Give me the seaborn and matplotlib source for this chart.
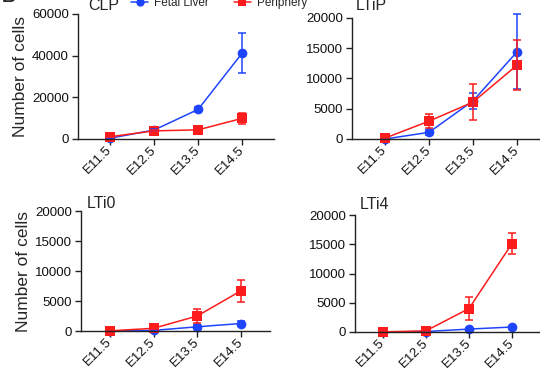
import matplotlib
matplotlib.use('Agg')
import matplotlib.pyplot as plt
import matplotlib.transforms as mtransforms
import seaborn as sns
import pandas as pd

sns.set_style('ticks')
plt.rcParams['font.family'] = ['Liberation Sans', 'DejaVu Sans']

# stages and values (mean and error)
stages = ['E11.5', 'E12.5', 'E13.5', 'E14.5']
panels = ['CLP', 'LTiP', 'LTi0', 'LTi4']

clp_fl = [400, 4300, 14200, 41200]
clp_fl_err = [200, 600, 1300, 9700]
clp_per = [1100, 3900, 4400, 9900]
clp_per_err = [300, 500, 1800, 2800]

ltip_fl = [0, 1100, 6300, 14400]
ltip_fl_err = [50, 400, 1300, 6200]
ltip_per = [150, 2950, 6100, 12200]
ltip_per_err = [100, 1150, 2950, 4100]

lti0_fl = [0, 100, 700, 1250]
lti0_fl_err = [20, 50, 250, 350]
lti0_per = [30, 450, 2500, 6700]
lti0_per_err = [20, 150, 1150, 1850]

lti4_fl = [0, 80, 500, 850]
lti4_fl_err = [10, 30, 150, 200]
lti4_per = [20, 200, 4000, 15100]
lti4_per_err = [10, 100, 1950, 1750]

values = {
    'CLP': (clp_fl, clp_fl_err, clp_per, clp_per_err),
    'LTiP': (ltip_fl, ltip_fl_err, ltip_per, ltip_per_err),
    'LTi0': (lti0_fl, lti0_fl_err, lti0_per, lti0_per_err),
    'LTi4': (lti4_fl, lti4_fl_err, lti4_per, lti4_per_err),
}
yticks = {
    'CLP': [0, 20000, 40000, 60000],
    'LTiP': [0, 5000, 10000, 15000, 20000],
    'LTi0': [0, 5000, 10000, 15000, 20000],
    'LTi4': [0, 5000, 10000, 15000, 20000],
}

rows = []
for p in panels:
    fl, fle, per, pere = values[p]
    for i, s in enumerate(stages):
        rows.append({'panel': p, 'stage': s, 'x': i, 'source': 'Fetal Liver', 'cells': fl[i], 'err': fle[i]})
        rows.append({'panel': p, 'stage': s, 'x': i, 'source': 'Periphery', 'cells': per[i], 'err': pere[i]})
df = pd.DataFrame(rows)

colors = {'Fetal Liver': '#1f45fc', 'Periphery': '#fc1c1c'}
markers = {'Fetal Liver': 'o', 'Periphery': 's'}

fig = plt.figure(figsize=(5.4, 3.69), dpi=100)
W, H = 540.0, 369.0
# left px, top px, bottom px, xlim pad, tick spacing px
layout = {
    'CLP': (78, 14, 139, 0.73, 44.0),
    'LTiP': (352, 18, 139, 0.75, 44.0),
    'LTi0': (81, 211, 331, 0.66, 43.7),
    'LTi4': (355, 215, 332, 0.65, 43.0),
}
title_pos = {'CLP': (0.051, 1.032), 'LTiP': (0.02, 1.066), 'LTi0': (0.032, 1.022), 'LTi4': (0.027, 1.05)}

for p in panels:
    left, top, bot, pad, sp = layout[p]
    width = (3 + 2 * pad) * sp
    ax = fig.add_axes([left / W, 1 - bot / H, width / W, (bot - top) / H])
    sub = df[df['panel'] == p]
    sns.lineplot(data=sub, x='x', y='cells', hue='source', style='source',
                 palette=colors, markers=markers, dashes=False, markersize=7,
                 markeredgewidth=0, linewidth=1.1, ax=ax, legend=False, errorbar=None)
    for src in ['Fetal Liver', 'Periphery']:
        s = sub[sub['source'] == src]
        ax.errorbar(s['x'], s['cells'], yerr=s['err'], fmt='none', ecolor=colors[src],
                    elinewidth=1.1, capsize=3.2, capthick=1.1, clip_on=False)
    for ln in ax.lines:
        ln.set_clip_on(False)
    ax.set_xlim(-pad, 3 + pad)
    ax.set_ylim(0, yticks[p][-1])
    ax.set_yticks(yticks[p])
    ax.set_yticklabels([str(v) for v in yticks[p]])
    ax.set_xticks(range(len(stages)))
    ax.set_xticklabels(stages, rotation=45, ha='right', va='center', rotation_mode='anchor')
    off = mtransforms.ScaledTranslation(4 / 100, -4 / 100, fig.dpi_scale_trans)
    for lab in ax.get_xticklabels():
        lab.set_transform(lab.get_transform() + off)
    ax.tick_params(axis='both', direction='out', length=4, width=1.0, labelsize=9.5,
                   colors='#222222', labelcolor='#111111', pad=2.5)
    sns.despine(ax=ax)
    for sp_name in ['left', 'bottom']:
        ax.spines[sp_name].set_linewidth(1.0)
        ax.spines[sp_name].set_color('#222222')
    ax.set_xlabel('')
    if p in ('CLP', 'LTi0'):
        ax.set_ylabel('Number of cells', fontsize=12.5, labelpad=3)
    else:
        ax.set_ylabel('')
    tx, ty = title_pos[p]
    ax.text(tx, ty, p, transform=ax.transAxes, fontsize=11.5, ha='left', va='baseline')

handles = [plt.Line2D([], [], color=colors[s], marker=markers[s], markersize=6,
                      markeredgewidth=0, linewidth=1.1) for s in ['Fetal Liver', 'Periphery']]
fig.legend(handles, ['Fetal Liver', 'Periphery'], loc='center', ncol=2,
           bbox_to_anchor=(219 / W, 1 - 3 / H), frameon=False, fontsize=8.5,
           handlelength=1.45, handletextpad=0.5, columnspacing=2.1, borderpad=0)

fig.text(0.004, 1 - 2 / H, 'B', fontsize=14, fontweight='bold', ha='left', va='baseline')

fig.savefig('out.png', dpi=100)
